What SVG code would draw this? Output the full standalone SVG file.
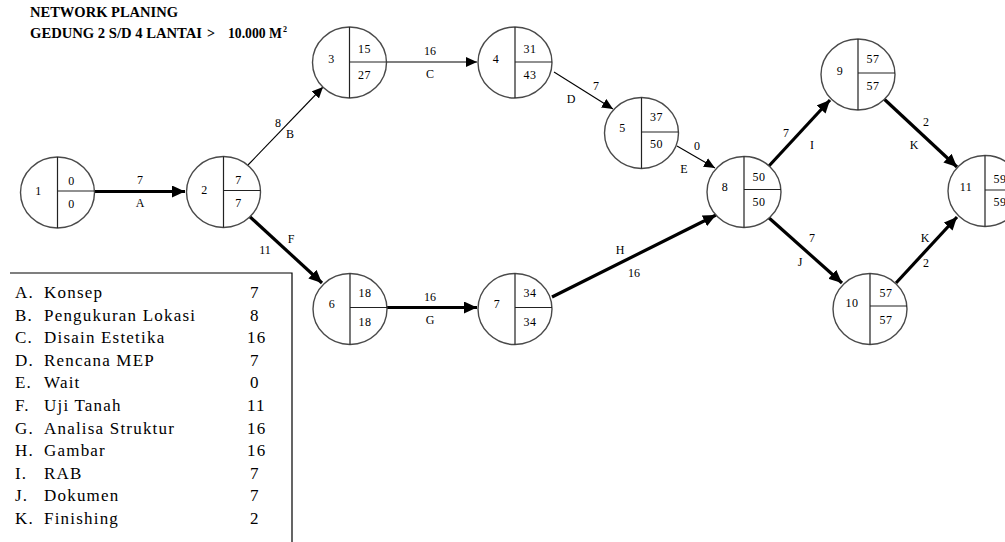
<svg xmlns="http://www.w3.org/2000/svg" width="1005" height="542" viewBox="0 0 1005 542">
<style>
  text { font-family: "Liberation Serif", "Times New Roman", serif; fill: #000; }
  .title { font-size: 14px; font-weight: bold; }
  .n { font-size: 12px; text-anchor: middle; letter-spacing: 0.6px; }
  .lbl { font-size: 12px; text-anchor: middle; }
  .leg { font-size: 17px; letter-spacing: 1.2px; }
  .circ { fill: #fff; stroke: #4a4a4a; stroke-width: 1.4; }
  .div { stroke: #222; stroke-width: 1.2; fill: none; }
  .thin { stroke: #000; stroke-width: 1.1; fill: none; marker-end: url(#ah-thin); }
  .thick { stroke: #000; stroke-width: 3.2; fill: none; marker-end: url(#ah-thick); }
  .box { stroke: #000; stroke-width: 1.2; fill: none; }
</style>
<defs>
  <marker id="ah-thin" markerUnits="userSpaceOnUse" markerWidth="12" markerHeight="10" refX="11" refY="5" orient="auto">
    <path d="M0,0 L11,5 L0,10 Z" fill="#000"/>
  </marker>
  <marker id="ah-thick" markerUnits="userSpaceOnUse" markerWidth="14" markerHeight="12" refX="13" refY="6" orient="auto">
    <path d="M0,0 L13,6 L0,12 Z" fill="#000"/>
  </marker>
</defs>
<rect width="1005" height="542" fill="#fff"/>

<g id="title">
  <text class="title" x="30" y="17" textLength="148" lengthAdjust="spacingAndGlyphs">NETWORK PLANING</text>
  <text class="title" x="30" y="38" textLength="172" lengthAdjust="spacingAndGlyphs">GEDUNG 2 S/D 4 LANTAI</text>
  <text class="title" x="207" y="38">&gt;</text>
  <text class="title" x="228" y="38" textLength="54" lengthAdjust="spacingAndGlyphs">10.000 M</text>
  <text class="title" x="283" y="32" style="font-size:8px">2</text>
</g>

<g id="connectors">
  <line class="thick" x1="95" y1="191.5" x2="185" y2="191.5"/>
  <line class="thin" x1="248" y1="165" x2="323" y2="87"/>
  <line class="thin" x1="386" y1="62" x2="477" y2="62"/>
  <line class="thin" x1="554" y1="72" x2="613" y2="109"/>
  <line class="thin" x1="677" y1="146" x2="715" y2="168"/>
  <line class="thick" x1="248" y1="215" x2="322" y2="283"/>
  <line class="thick" x1="387" y1="307.5" x2="477" y2="307.5"/>
  <line class="thick" x1="552" y1="297" x2="716" y2="215"/>
  <line class="thick" x1="768" y1="167" x2="830" y2="100"/>
  <line class="thick" x1="768" y1="217" x2="842" y2="283"/>
  <line class="thick" x1="883" y1="98" x2="957" y2="167"/>
  <line class="thick" x1="896" y1="283" x2="957" y2="217"/>
  <g id="connector-labels">
    <text class="lbl" x="140" y="184">7</text><text class="lbl" x="140" y="207">A</text>
    <text class="lbl" x="278" y="127">8</text><text class="lbl" x="290" y="138">B</text>
    <text class="lbl" x="430" y="55">16</text><text class="lbl" x="430" y="78">C</text>
    <text class="lbl" x="596" y="90">7</text><text class="lbl" x="571" y="103">D</text>
    <text class="lbl" x="697" y="150">0</text><text class="lbl" x="684" y="173">E</text>
    <text class="lbl" x="291" y="243">F</text><text class="lbl" x="265" y="254">11</text>
    <text class="lbl" x="430" y="301">16</text><text class="lbl" x="430" y="324">G</text>
    <text class="lbl" x="620" y="254">H</text><text class="lbl" x="634" y="277">16</text>
    <text class="lbl" x="786" y="137">7</text><text class="lbl" x="812" y="149">I</text>
    <text class="lbl" x="812" y="242">7</text><text class="lbl" x="800" y="266">J</text>
    <text class="lbl" x="926" y="126">2</text><text class="lbl" x="914" y="149">K</text>
    <text class="lbl" x="925" y="242">K</text><text class="lbl" x="926" y="267">2</text>
  </g>
</g>

<g id="node1" transform="translate(57.5,192.5)">
  <ellipse class="circ" rx="37" ry="35.5"/>
  <path class="div" d="M0,-35.5 V35.5 M0,-1.5 H37"/>
  <text class="n" x="-19" y="2">1</text><text class="n" x="14" y="-8">0</text><text class="n" x="14" y="15">0</text>
</g>
<g id="node2" transform="translate(223.5,192)">
  <ellipse class="circ" rx="37" ry="35.5"/>
  <path class="div" d="M0,-35.5 V35.5 M0,-1.5 H37"/>
  <text class="n" x="-19" y="2">2</text><text class="n" x="15" y="-8">7</text><text class="n" x="15" y="15">7</text>
</g>
<g id="node3" transform="translate(349.5,62.5)">
  <ellipse class="circ" rx="37" ry="35.5"/>
  <path class="div" d="M0,-35.5 V35.5 M0,-0.5 H37"/>
  <text class="n" x="-18" y="0">3</text><text class="n" x="15" y="-10">15</text><text class="n" x="15" y="16">27</text>
</g>
<g id="node4" transform="translate(515,62.5)">
  <ellipse class="circ" rx="37" ry="35.5"/>
  <path class="div" d="M0,-35.5 V35.5 M0,-0.5 H37"/>
  <text class="n" x="-19" y="0">4</text><text class="n" x="15" y="-10">31</text><text class="n" x="15" y="16">43</text>
</g>
<g id="node5" transform="translate(641.5,133)">
  <ellipse class="circ" rx="37" ry="35.5"/>
  <path class="div" d="M0,-35.5 V35.5 M0,-1 H37"/>
  <text class="n" x="-19" y="-1">5</text><text class="n" x="15" y="-12">37</text><text class="n" x="15" y="15">50</text>
</g>
<g id="node6" transform="translate(350,309)">
  <ellipse class="circ" rx="37" ry="35.5"/>
  <path class="div" d="M0,-35.5 V35.5 M0,-1.5 H37"/>
  <text class="n" x="-18" y="-1">6</text><text class="n" x="15" y="-12">18</text><text class="n" x="15" y="17">18</text>
</g>
<g id="node7" transform="translate(515,309)">
  <ellipse class="circ" rx="37" ry="35.5"/>
  <path class="div" d="M0,-35.5 V35.5 M0,-1.5 H37"/>
  <text class="n" x="-18" y="-1">7</text><text class="n" x="15" y="-12">34</text><text class="n" x="15" y="17">34</text>
</g>
<g id="node8" transform="translate(744,192)">
  <ellipse class="circ" rx="37" ry="35.5"/>
  <path class="div" d="M0,-35.5 V35.5 M0,-2.5 H37"/>
  <text class="n" x="-19" y="-1">8</text><text class="n" x="15" y="-11">50</text><text class="n" x="15" y="14">50</text>
</g>
<g id="node9" transform="translate(858,74.5)">
  <ellipse class="circ" rx="37" ry="35.5"/>
  <path class="div" d="M0,-35.5 V35.5 M0,-1.5 H37"/>
  <text class="n" x="-18" y="0">9</text><text class="n" x="15" y="-12">57</text><text class="n" x="15" y="15">57</text>
</g>
<g id="node10" transform="translate(870,309)">
  <ellipse class="circ" rx="37" ry="35.5"/>
  <path class="div" d="M0,-35.5 V35.5 M0,-3 H37"/>
  <text class="n" x="-18" y="-2">10</text><text class="n" x="16" y="-12">57</text><text class="n" x="16" y="15">57</text>
</g>
<g id="node11" transform="translate(985,191)">
  <ellipse class="circ" rx="37" ry="35.5"/>
  <path class="div" d="M0,-35.5 V35.5 M0,-1 H37"/>
  <text class="n" x="-19" y="0">11</text><text class="n" x="15" y="-8">59</text><text class="n" x="15" y="15">59</text>
</g>

<g id="legend">
  <path class="box" d="M10,273 H292 V542"/>
  <g class="leg">
    <text x="15" y="298">A.</text><text x="44" y="298">Konsep</text><text x="250" y="298">7</text>
    <text x="15" y="320.6">B.</text><text x="44" y="320.6">Pengukuran Lokasi</text><text x="250" y="320.6">8</text>
    <text x="15" y="343.2">C.</text><text x="44" y="343.2">Disain Estetika</text><text x="247" y="343.2">16</text>
    <text x="15" y="365.8">D.</text><text x="44" y="365.8">Rencana MEP</text><text x="250" y="365.8">7</text>
    <text x="15" y="388.4">E.</text><text x="44" y="388.4">Wait</text><text x="250" y="388.4">0</text>
    <text x="15" y="411">F.</text><text x="44" y="411">Uji Tanah</text><text x="247" y="411">11</text>
    <text x="15" y="433.6">G.</text><text x="44" y="433.6">Analisa Struktur</text><text x="247" y="433.6">16</text>
    <text x="15" y="456.2">H.</text><text x="44" y="456.2">Gambar</text><text x="247" y="456.2">16</text>
    <text x="15" y="478.8">I.</text><text x="44" y="478.8">RAB</text><text x="250" y="478.8">7</text>
    <text x="15" y="501.4">J.</text><text x="44" y="501.4">Dokumen</text><text x="250" y="501.4">7</text>
    <text x="15" y="524">K.</text><text x="44" y="524">Finishing</text><text x="250" y="524">2</text>
  </g>
</g>
</svg>
